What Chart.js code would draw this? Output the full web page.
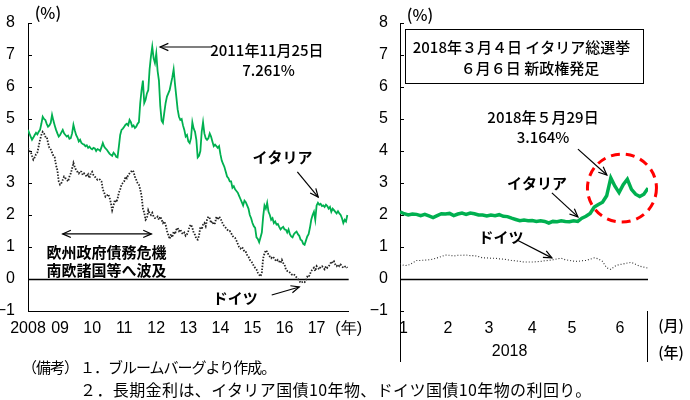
<!DOCTYPE html>
<html><head><meta charset="utf-8">
<script src="https://cdn.jsdelivr.net/npm/chart.js@4.4.1/dist/chart.umd.min.js"></script>
<style>
html,body{margin:0;padding:0;background:#fff;}
#wrap{position:relative;width:690px;height:400px;overflow:hidden;background:#fff;}
canvas{position:absolute;top:0;}
#cl{left:0;}
#cr{left:370px;}
.note{position:absolute;font-family:'Noto Sans CJK JP',sans-serif;font-size:15px;color:#000;white-space:nowrap;line-height:1;}
</style></head><body>
<div id="wrap">
<canvas id="cl" width="370" height="400"></canvas>
<canvas id="cr" width="320" height="400"></canvas>
<div class="note" style="left:22px;top:359px;letter-spacing:-1px">（備考）</div>
<div class="note" style="left:80px;top:359px;letter-spacing:-1px">１．ブルームバーグより作成。</div>
<div class="note" style="left:80px;top:381px;font-size:16px;letter-spacing:0.4px">２．長期金利は、イタリア国債10年物、ドイツ国債10年物の利回り。</div>
</div>
<script>
// ---------- data ----------
const yearTickLabels = ['2008','09','10','11','12','13','14','15','16','17','(年)'];
const yTicks = [-1,0,1,2,3,4,5,6,7,8];
const monthTickLabels = ['1','2','3','4','5','6'];
const monthTickDays = [1.7, 23.2, 43, 64, 83.2, 106.4];

// Italy 10y, Jan 2008 - Dec 2017, two readings per month (%)
const italyLong = [
 4.66,4.55,4.45,4.35,4.42,4.50,4.57,4.52,4.60,4.66,4.85,5.07,5.00,4.97,4.85,4.76,4.80,4.88,5.13,4.95,4.80,4.66,4.55,4.45,
 4.50,4.58,4.66,4.55,4.50,4.45,4.48,4.38,4.40,4.55,4.82,4.65,4.50,4.42,4.30,4.35,4.25,4.22,4.20,4.15,4.18,4.10,4.14,4.08,
 4.05,4.10,4.08,4.00,4.06,4.04,4.00,4.12,4.25,4.14,4.08,4.04,3.98,3.92,3.88,3.85,3.95,3.90,3.82,3.80,4.14,4.50,4.66,4.70,
 4.76,4.82,4.85,4.80,4.97,4.90,4.76,4.80,4.72,4.76,4.85,4.90,5.50,5.90,6.20,5.50,5.60,5.80,5.90,6.55,6.95,7.26,6.90,6.75,
 7.05,6.50,6.20,5.40,4.95,4.88,5.20,5.50,5.70,5.80,5.90,6.10,6.30,6.55,6.10,5.70,5.30,5.07,4.97,5.00,4.80,4.66,4.45,4.50,
 4.30,4.25,4.40,4.90,4.70,4.60,4.35,3.80,3.85,4.00,4.60,4.90,4.55,4.40,4.35,4.40,4.55,4.45,4.30,4.15,4.20,4.15,4.10,4.15,
 3.90,3.70,3.60,3.50,3.35,3.20,3.15,3.05,3.05,2.85,2.90,2.80,2.75,2.70,2.60,2.50,2.40,2.30,2.45,2.40,2.30,2.20,2.00,1.90,
 1.75,1.65,1.60,1.30,1.25,1.15,1.30,1.45,1.95,2.30,2.20,2.38,2.10,2.00,1.85,1.90,1.75,1.80,1.70,1.72,1.63,1.55,1.60,1.63,
 1.55,1.54,1.45,1.55,1.40,1.33,1.30,1.40,1.45,1.48,1.40,1.35,1.23,1.20,1.10,1.07,1.20,1.33,1.40,1.60,1.85,2.00,2.10,1.85,
 2.30,2.38,2.32,2.35,2.28,2.30,2.25,2.32,2.28,2.20,2.25,2.10,2.20,2.15,2.10,2.05,2.12,2.05,2.00,1.90,1.75,1.85,1.80,2.00
];
// Germany 10y, same dates (%)
const germanyLong = [
 4.10,4.00,3.98,3.85,3.73,3.80,3.90,3.95,4.15,4.35,4.50,4.60,4.55,4.45,4.45,4.25,4.10,4.05,3.95,3.85,3.80,3.55,3.40,3.05,
 2.95,3.00,3.10,3.20,3.15,3.10,3.05,3.20,3.30,3.45,3.63,3.50,3.40,3.35,3.30,3.37,3.35,3.25,3.30,3.25,3.20,3.27,3.15,3.30,
 3.35,3.25,3.20,3.15,3.10,3.12,3.10,3.05,2.80,2.70,2.57,2.60,2.65,2.55,2.38,2.15,2.30,2.47,2.40,2.50,2.70,2.80,2.95,3.00,
 3.05,3.20,3.15,3.25,3.30,3.35,3.40,3.35,3.20,3.10,3.00,2.95,2.80,2.60,2.20,2.07,1.85,1.90,2.15,2.05,2.00,2.07,1.95,1.90,
 1.90,1.95,1.85,1.95,1.85,1.75,1.80,1.70,1.50,1.38,1.25,1.40,1.30,1.48,1.40,1.54,1.60,1.50,1.55,1.45,1.40,1.45,1.35,1.40,
 1.50,1.65,1.70,1.60,1.45,1.38,1.25,1.23,1.35,1.63,1.55,1.70,1.75,1.65,1.85,1.95,1.90,1.75,1.80,1.70,1.75,1.95,1.85,1.95,
 1.90,1.80,1.70,1.65,1.60,1.55,1.50,1.50,1.44,1.35,1.30,1.28,1.20,1.10,1.00,0.95,1.00,0.95,0.85,0.85,0.75,0.70,0.60,0.55,
 0.50,0.40,0.35,0.30,0.20,0.13,0.08,0.20,0.65,0.80,0.90,0.85,0.76,0.70,0.65,0.70,0.66,0.60,0.55,0.60,0.55,0.50,0.60,0.50,
 0.45,0.30,0.25,0.24,0.20,0.15,0.13,0.15,0.10,0.05,0.00,-0.05,-0.12,-0.10,-0.08,-0.10,-0.05,0.07,0.05,0.15,0.25,0.30,0.35,0.25,
 0.40,0.35,0.30,0.38,0.40,0.35,0.30,0.40,0.35,0.40,0.45,0.55,0.50,0.55,0.45,0.40,0.45,0.40,0.45,0.40,0.35,0.38,0.40,0.35
];
// 2018, every second trading day from 2 Jan (%)
const italy2018 = [
 2.10,2.04,2.00,2.03,2.02,1.98,2.02,1.97,1.92,1.98,2.04,2.03,2.05,1.98,2.03,2.06,2.02,2.06,2.04,2.00,
 2.00,1.97,2.00,1.98,2.01,1.96,1.95,1.90,1.86,1.82,1.84,1.82,1.83,1.80,1.82,1.80,1.75,1.80,1.79,1.82,
 1.80,1.79,1.82,1.80,1.90,1.96,2.05,2.25,2.33,2.40,2.60,3.16,2.90,2.70,2.95,3.12,2.80,2.65,2.58,2.65,2.84
];
const germany2018 = [
 0.48,0.42,0.43,0.50,0.58,0.58,0.59,0.60,0.62,0.66,0.70,0.75,0.74,0.72,0.74,0.74,0.75,0.73,0.73,0.70,
 0.66,0.66,0.65,0.65,0.63,0.62,0.60,0.58,0.57,0.55,0.53,0.53,0.53,0.54,0.55,0.57,0.58,0.60,0.63,0.65,
 0.60,0.58,0.56,0.55,0.57,0.58,0.62,0.66,0.63,0.55,0.35,0.30,0.40,0.45,0.47,0.50,0.52,0.46,0.40,0.37,0.34
];

// ---------- styling ----------
const GREEN = '#00b050';
const JP = "'Noto Sans CJK JP', sans-serif";
const NUM = "'Liberation Sans Narrow', 'Liberation Sans', Arial, sans-serif";

function P(chart, x, y){ return [chart.scales.x.getPixelForValue(x), chart.scales.y.getPixelForValue(y)]; }
function txt(ctx, s, x, y, size, weight, align){
  ctx.font = (weight||'500') + ' ' + (size||15) + 'px ' + JP;
  ctx.textAlign = align || 'center'; ctx.textBaseline = 'middle'; ctx.fillStyle = '#000';
  ctx.fillText(s, x, y);
}
function head(ctx, x1, y1, x2, y2){
  const a = Math.atan2(y2-y1, x2-x1), L = 9, w = 0.42;
  ctx.beginPath();
  ctx.moveTo(x2 - L*Math.cos(a-w), y2 - L*Math.sin(a-w));
  ctx.lineTo(x2, y2);
  ctx.lineTo(x2 - L*Math.cos(a+w), y2 - L*Math.sin(a+w));
  ctx.stroke();
}
function arrow(ctx, p1, p2, both){
  ctx.save(); ctx.strokeStyle = '#000'; ctx.lineWidth = 1.2; ctx.setLineDash([]);
  ctx.beginPath(); ctx.moveTo(p1[0], p1[1]); ctx.lineTo(p2[0], p2[1]); ctx.stroke();
  head(ctx, p1[0], p1[1], p2[0], p2[1]);
  if (both) head(ctx, p2[0], p2[1], p1[0], p1[1]);
  ctx.restore();
}
function basePlugin(extra){
  return {
    id: 'frame',
    beforeDatasetsDraw(chart){
      const ctx = chart.ctx, a = chart.chartArea, ys = chart.scales.y;
      ctx.save();
      ctx.strokeStyle = '#000'; ctx.lineWidth = 1;
      yTicks.forEach(v => {
        const y = Math.round(ys.getPixelForValue(v)) + 0.5;
        ctx.beginPath(); ctx.moveTo(a.left, y); ctx.lineTo(a.left + 4, y); ctx.stroke();
      });
      const y0 = Math.round(ys.getPixelForValue(0)) + 0.5;
      ctx.lineWidth = 1.4;
      ctx.beginPath(); ctx.moveTo(a.left, y0); ctx.lineTo(a.right, y0); ctx.stroke();
      ctx.restore();
    },
    afterDraw(chart){ const ctx = chart.ctx; ctx.save(); extra(chart, ctx); ctx.restore(); }
  };
}
function yScale(labelPad, width){
  return {
    min: -1, max: 8,
    afterBuildTicks: s => { s.ticks = yTicks.map(v => ({value: v})); },
    ticks: { padding: labelPad, color: '#000', font: {family: NUM, size: 16},
             callback: v => v < 0 ? '\u2212' + Math.abs(v) : String(v) },
    grid: { display: false, drawTicks: false },
    border: { display: true, color: '#000', width: 1 },
    afterFit: s => { s.width = width; }
  };
}

// ---------- left chart ----------
new Chart(document.getElementById('cl'), {
  type: 'line',
  data: { datasets: [
    { data: italyLong.map((v,k) => ({x: 2008 + k/24, y: v})), borderColor: GREEN, borderWidth: 1.8, pointRadius: 0, tension: 0 },
    { data: germanyLong.map((v,k) => ({x: 2008 + k/24, y: v})), borderColor: '#222', borderWidth: 1.8, borderDash: [1.5,1.5], pointRadius: 0, tension: 0 }
  ]},
  options: {
    responsive: false, animation: false, devicePixelRatio: 1,
    layout: { padding: { left: 0, right: 17, top: 23, bottom: 0 } },
    plugins: { legend: { display: false }, tooltip: { enabled: false } },
    scales: {
      x: { type: 'linear', min: 2008, max: 2018,
           afterBuildTicks: s => { s.ticks = yearTickLabels.map((_, i) => ({value: 2008 + i})); },
           ticks: { autoSkip: false, maxRotation: 0, padding: 8, color: '#000', font: {family: NUM, size: 16},
                    callback: (v, i) => yearTickLabels[i] },
           grid: { display: false, drawTicks: false },
           border: { display: true, color: '#000', width: 1 },
           afterFit: s => { s.height = 89; } },
      y: yScale(13, 28)
    }
  },
  plugins: [basePlugin((c, ctx) => {
    txt(ctx, '(%)', ...P(c, 2008.62, 8.3), 16, '500');
    arrow(ctx, P(c, 2013.75, 7.25), P(c, 2012.12, 7.25));
    txt(ctx, '2011年11月25日', ...P(c, 2015.45, 7.16), 15, '500');
    txt(ctx, '7.261%', ...P(c, 2015.5, 6.53), 15, '500');
    txt(ctx, 'イタリア', ...P(c, 2015.94, 3.81), 15, '700');
    arrow(ctx, P(c, 2016.4, 3.35), P(c, 2017.05, 2.56));
    arrow(ctx, P(c, 2009.08, 1.41), P(c, 2011.85, 1.41), true);
    txt(ctx, '欧州政府債務危機', ...P(c, 2008.58, 0.84), 15, '700', 'left');
    txt(ctx, '南欧諸国等へ波及', ...P(c, 2008.58, 0.28), 15, '700', 'left');
    txt(ctx, 'ドイツ', ...P(c, 2014.46, -0.59), 15, '700');
    arrow(ctx, P(c, 2015.6, -0.5), P(c, 2016.46, -0.25));
  })]
});

// ---------- right chart ----------
new Chart(document.getElementById('cr'), {
  type: 'line',
  data: { datasets: [
    { data: italy2018.map((v,i) => ({x: i*2, y: v})), borderColor: GREEN, borderWidth: 3.5, pointRadius: 0, tension: 0 },
    { data: germany2018.map((v,i) => ({x: i*2, y: v})), borderColor: '#333', borderWidth: 1.1, borderDash: [1,2], pointRadius: 0, tension: 0 }
  ]},
  options: {
    responsive: false, animation: false, devicePixelRatio: 1,
    layout: { padding: { left: 0, right: 42, top: 23, bottom: 0 } },
    plugins: { legend: { display: false }, tooltip: { enabled: false } },
    scales: {
      x: { type: 'linear', min: 0, max: 120,
           afterBuildTicks: s => { s.ticks = monthTickDays.map(v => ({value: v})); },
           ticks: { autoSkip: false, maxRotation: 0, padding: 8, color: '#000', font: {family: NUM, size: 16},
                    callback: (v, i) => monthTickLabels[i] },
           grid: { display: false, drawTicks: false },
           border: { display: false },
           afterFit: s => { s.height = 89; } },
      y: yScale(12, 30)
    }
  },
  plugins: [basePlugin((c, ctx) => {
    const a = c.chartArea;
    ctx.strokeStyle = '#000'; ctx.lineWidth = 1;
    // extended axis and separator
    ctx.beginPath(); ctx.moveTo(a.left + 0.5, a.bottom); ctx.lineTo(a.left + 0.5, 362); ctx.stroke();
    ctx.beginPath(); ctx.moveTo(a.right - 0.5, a.bottom); ctx.lineTo(a.right - 0.5, 362); ctx.stroke();
    ctx.font = '500 16px ' + NUM; ctx.textAlign = 'center'; ctx.textBaseline = 'middle'; ctx.fillStyle = '#000';
    ctx.fillText('2018', c.scales.x.getPixelForValue(53), 352);
    txt(ctx, '(月)', a.right + 23, 325, 15, '500');
    txt(ctx, '(年)', a.right + 23, 352, 15, '500');
    txt(ctx, '(%)', ...P(c, 9.7, 8.25), 16, '500');
    // box
    const b1 = P(c, 2.4, 7.81), b2 = P(c, 117.6, 6.125);
    ctx.strokeRect(Math.round(b1[0]) + 0.5, Math.round(b1[1]) + 0.5, Math.round(b2[0]-b1[0]), Math.round(b2[1]-b1[1]));
    txt(ctx, '2018年３月４日 イタリア総選挙', ...P(c, 58.8, 7.25), 15, '500');
    txt(ctx, '６月６日 新政権発足', ...P(c, 62.9, 6.59), 15, '500');
    txt(ctx, '2018年５月29日', ...P(c, 69.2, 5.06), 15, '500');
    txt(ctx, '3.164%', ...P(c, 69.2, 4.44), 15, '500');
    arrow(ctx, P(c, 86.1, 4.06), P(c, 100.1, 3.25));
    txt(ctx, 'イタリア', ...P(c, 66.3, 3.0), 15, '700');
    arrow(ctx, P(c, 73.5, 2.69), P(c, 86.1, 1.94));
    txt(ctx, 'ドイツ', ...P(c, 48.9, 1.31), 15, '700');
    arrow(ctx, P(c, 56.6, 1.22), P(c, 73.5, 0.66));
    // red dashed circle
    const cc = P(c, 107.4, 2.84);
    ctx.strokeStyle = '#ff0000'; ctx.lineWidth = 3; ctx.setLineDash([9,6]);
    ctx.beginPath(); ctx.ellipse(cc[0], cc[1], 34.5, 34, 0, 0, Math.PI*2); ctx.stroke();
  })]
});
</script>
</body></html>
